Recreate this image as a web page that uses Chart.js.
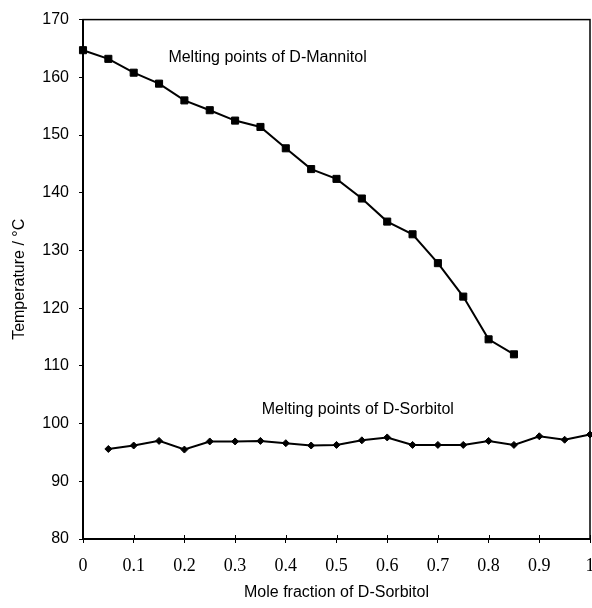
<!DOCTYPE html>
<html>
<head>
<meta charset="utf-8">
<script src="https://cdn.jsdelivr.net/npm/chart.js@4.4.1/dist/chart.umd.min.js"></script>
<style>
body{margin:0;background:#fff}
#wrap{width:592px;height:608px}
</style>
</head>
<body>
<div id="wrap"><canvas id="myChart" width="592" height="608"></canvas></div>
<script>
const mannitolX = [0,0.05,0.1,0.15,0.2,0.25,0.3,0.35,0.4,0.45,0.5,0.55,0.6,0.65,0.7,0.75,0.8,0.85]
const mannitolT = [164.7,163.2,160.8,158.9,156.0,154.3,152.5,151.4,147.7,144.1,142.4,139.0,135.0,132.8,127.8,122.0,114.6,112.0]
const sorbitolX = [0.05,0.1,0.15,0.2,0.25,0.3,0.35,0.4,0.45,0.5,0.55,0.6,0.65,0.7,0.75,0.8,0.85,0.9,0.95,1]
const sorbitolT = [95.6,96.2,97.0,95.5,96.9,96.9,97.0,96.6,96.2,96.3,97.1,97.6,96.3,96.3,96.3,97.0,96.3,97.8,97.2,98.1]
const xTicks = [0,0.1,0.2,0.3,0.4,0.5,0.6,0.7,0.8,0.9,1]
const yTicks = [80,90,100,110,120,130,140,150,160,170]
const notes = ['Melting points of D-Mannitol','Melting points of D-Sorbitol']
const noteX = [0.364,0.542]
const noteY = [163.4,102.5]

const sans = '"Liberation Sans", Arial, sans-serif'
const serif = '"Liberation Serif", "Times New Roman", serif'

// box round the plot, inner half of the x ticks, and the two captions
const extras = {
  id: 'extras',
  afterDatasetsDraw(chart) {
    const {ctx, chartArea: a, scales: {x, y}} = chart
    ctx.save()
    ctx.strokeStyle = '#000'
    ctx.lineWidth = 1.5
    ctx.strokeRect(a.left, a.top, a.right - a.left, a.bottom - a.top)
    ctx.lineWidth = 1
    ctx.beginPath()
    x.ticks.forEach(t => {
      const px = Math.round(x.getPixelForValue(t.value)) + 0.5
      ctx.moveTo(px, a.bottom)
      ctx.lineTo(px, a.bottom - 4)
    })
    ctx.stroke()
    ctx.font = '16px ' + sans
    ctx.fillStyle = '#000'
    ctx.textAlign = 'center'
    ctx.textBaseline = 'middle'
    notes.forEach((t, i) => ctx.fillText(t, x.getPixelForValue(noteX[i]), y.getPixelForValue(noteY[i])))
    ctx.restore()
  }
}

const ctx = document.getElementById('myChart').getContext('2d')

const myChart = new Chart(ctx, {
  type: 'line',
  data: {
    datasets: [{
      label: 'D-Mannitol',
      data: mannitolX.map((v, i) => ({x: v, y: mannitolT[i]})),
      borderColor: '#000',
      backgroundColor: '#000',
      borderWidth: 2,
      pointStyle: 'rect',
      pointRadius: 5,
      pointBorderWidth: 1,
      clip: false
    }, {
      label: 'D-Sorbitol',
      data: sorbitolX.map((v, i) => ({x: v, y: sorbitolT[i]})),
      borderColor: '#000',
      backgroundColor: '#000',
      borderWidth: 2,
      pointStyle: 'rectRot',
      pointRadius: 3.5,
      pointBorderWidth: 1,
      clip: false
    }]
  },
  options: {
    responsive: false,
    animation: false,
    layout: {autoPadding: false, padding: {top: 17, right: 2, left: 0, bottom: 0}},
    plugins: {legend: {display: false}, tooltip: {enabled: false}},
    scales: {
      x: {
        type: 'linear',
        min: 0,
        max: 1,
        afterBuildTicks: s => { s.ticks = xTicks.map(v => ({value: v})) },
        afterFit: s => { s.height = 69; s.paddingLeft = 0; s.paddingRight = 0 },
        border: {color: '#000', width: 2},
        grid: {drawOnChartArea: false, color: '#000', tickLength: 4},
        ticks: {color: '#000', padding: 12, maxRotation: 0, font: {family: serif, size: 18},
          callback: v => String(v)},
        title: {display: true, text: 'Mole fraction of D-Sorbitol', color: '#000',
          font: {family: sans, size: 16, lineHeight: 1}, padding: {top: 0, bottom: 7}}
      },
      y: {
        min: 80,
        max: 170,
        afterBuildTicks: s => { s.ticks = yTicks.map(v => ({value: v})) },
        afterFit: s => { s.width = 83 },
        border: {color: '#000', width: 2},
        grid: {drawOnChartArea: false, color: '#000', tickLength: 4},
        ticks: {color: '#000', padding: 10, font: {family: sans, size: 16}},
        title: {display: true, text: 'Temperature / °C', color: '#000',
          font: {family: sans, size: 16}, padding: {top: 10, bottom: 0}}
      }
    }
  },
  plugins: [extras]
})
</script>
</body>
</html>
